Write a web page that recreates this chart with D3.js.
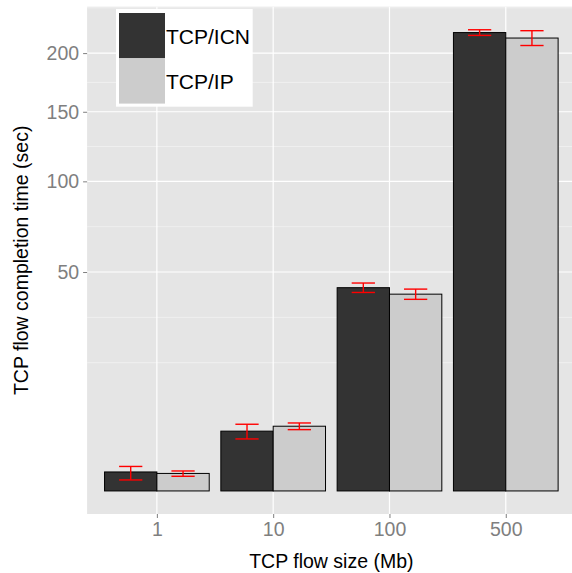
<!DOCTYPE html>
<html>
<head>
<meta charset="utf-8">
<script src="https://cdn.jsdelivr.net/npm/d3@7"></script>
<style>
  body { margin: 0; background: #fff; }
  svg text { font-family: "Liberation Sans", Arial, Helvetica, sans-serif; }
</style>
</head>
<body>
<div id="chart"></div>
<script>
    // flow sizes on the x axis
    var sizes = ["1", "10", "100", "500"];
    var series = ["TCP/ICN", "TCP/IP"];
    // mean completion time (sec) and error half-width
    var icnMean = [0.376, 3.73, 43.1, 219.2];
    var icnErr  = [0.25, 0.91, 2.0, 2.7];
    var ipMean  = [0.32, 4.37, 40.4, 214.0];
    var ipErr   = [0.096, 0.45, 2.1, 7.0];
    var yTicks  = [50, 100, 150, 200];

    var width = 572, height = 573;
    var fills = {"TCP/ICN": "#333333", "TCP/IP": "#CCCCCC"};

    var rows = [];
    sizes.forEach(function(s, i) {
        rows.push({size: s, i: i, key: "TCP/ICN", v: icnMean[i], e: icnErr[i]});
        rows.push({size: s, i: i, key: "TCP/IP", v: ipMean[i], e: ipErr[i]});
    });

    var svg = d3.select('#chart').append('svg')
                .attr('width', width)
                .attr('height', height);

    // "top" is taken by window.top, so use own names
    var pLeft = 87.1, pTop = 6.7, pBottom = 514;
    var step = 116.3;

    // discrete x: positions 1..n, expanded 0.6 each side like ggplot
    var x = d3.scaleLinear()
              .domain([0.4, sizes.length + 0.6])
              .range([pLeft, pLeft + (sizes.length + 0.2) * step]);

    // sqrt y with 5% expansion in transformed space
    var maxS = Math.sqrt(d3.max(rows, d => d.v + d.e));
    var pad = maxS * 0.05;
    var y = d3.scaleSqrt()
              .domain([-pad * pad, (maxS + pad) * (maxS + pad)])
              .range([pBottom, pTop]);

    // panel
    svg.append('rect')
       .attr('x', x(0.4)).attr('y', pTop)
       .attr('width', x(sizes.length + 0.6) - x(0.4))
       .attr('height', pBottom - pTop)
       .attr('fill', '#E5E5E5');

    // minor grid: midpoints in sqrt space, extended one step past the majors
    var sq = yTicks.map(Math.sqrt);
    var bd = sq[1] - sq[0];
    var ext = [sq[0] - bd].concat(sq, [sq[sq.length - 1] + bd]);
    var minors = [ext[0]];
    for (var k = 0; k < ext.length - 1; k++) minors.push((ext[k] + ext[k + 1]) / 2);
    minors = minors.filter(m => m >= -pad && m <= maxS + pad);

    svg.append('g').selectAll('line')
       .data(minors).enter().append('line')
       .attr('x1', x(0.4)).attr('x2', width)
       .attr('y1', m => y(m * m)).attr('y2', m => y(m * m))
       .attr('stroke', '#F2F2F2').attr('stroke-width', 0.8);

    svg.append('g').selectAll('line')
       .data(yTicks).enter().append('line')
       .attr('x1', x(0.4)).attr('x2', width)
       .attr('y1', d => y(d)).attr('y2', d => y(d))
       .attr('stroke', '#fff').attr('stroke-width', 1.2);

    svg.append('g').selectAll('line')
       .data(sizes).enter().append('line')
       .attr('x1', (d, i) => x(i + 1)).attr('x2', (d, i) => x(i + 1))
       .attr('y1', pTop).attr('y2', pBottom)
       .attr('stroke', '#fff').attr('stroke-width', 1.2);

    // bars, dodged 0.9
    var bw = 0.45;
    var off = {"TCP/ICN": -bw / 2, "TCP/IP": bw / 2};

    svg.append('g').selectAll('rect')
       .data(rows).enter().append('rect')
       .attr('x', d => x(d.i + 1 + off[d.key] - bw / 2))
       .attr('y', d => y(d.v))
       .attr('width', x(1 + bw) - x(1))
       .attr('height', d => y(0) - y(d.v))
       .attr('fill', d => fills[d.key])
       .attr('stroke', '#000').attr('stroke-width', 1);

    // error bars
    var ew = 0.1;
    var eb = svg.append('g').attr('stroke', '#F00').attr('stroke-width', 1.4).attr('fill', 'none');
    rows.forEach(function(d) {
        var cx = d.i + 1 + off[d.key];
        eb.append('line').attr('x1', x(cx)).attr('x2', x(cx))
          .attr('y1', y(d.v - d.e)).attr('y2', y(d.v + d.e));
        [d.v - d.e, d.v + d.e].forEach(function(v) {
            eb.append('line').attr('x1', x(cx - ew)).attr('x2', x(cx + ew))
              .attr('y1', y(v)).attr('y2', y(v));
        });
    });

    // axes
    var yAxis = svg.append('g')
       .attr('transform', 'translate(' + x(0.4) + ',0)')
       .call(d3.axisLeft(y).tickValues(yTicks).tickSize(4).tickPadding(4));
    var xAxis = svg.append('g')
       .attr('transform', 'translate(0,' + pBottom + ')')
       .call(d3.axisBottom(x).tickValues(d3.range(1, sizes.length + 1))
                             .tickFormat(d => sizes[d - 1]).tickSize(4).tickPadding(4));
    [yAxis, xAxis].forEach(function(a) {
        a.select('.domain').remove();
        a.selectAll('.tick line').attr('stroke', '#7F7F7F');
        a.selectAll('.tick text').attr('fill', '#7F7F7F').style('font-size', '19.5px');
    });

    svg.append('text')
       .attr('x', x((0.4 + sizes.length + 0.6) / 2)).attr('y', 568)
       .attr('text-anchor', 'middle').style('font-size', '19.5px')
       .text('TCP flow size (Mb)');

    svg.append('text')
       .attr('transform', 'translate(28,' + (pTop + pBottom) / 2 + ') rotate(-90)')
       .attr('text-anchor', 'middle').style('font-size', '19.5px')
       .text('TCP flow completion time (sec)');

    // legend
    var lg = svg.append('g').attr('transform', 'translate(116,9)');
    lg.append('rect').attr('width', 136.7).attr('height', 97.7).attr('fill', '#fff');
    series.forEach(function(s, i) {
        lg.append('rect').attr('x', 3).attr('y', 4 + i * 45.3)
          .attr('width', 46).attr('height', 45.3).attr('fill', fills[s]);
        lg.append('text').attr('x', 50).attr('y', 35 + i * 45.3)
          .style('font-size', '21px').text(s);
    });
</script>
</body>
</html>
